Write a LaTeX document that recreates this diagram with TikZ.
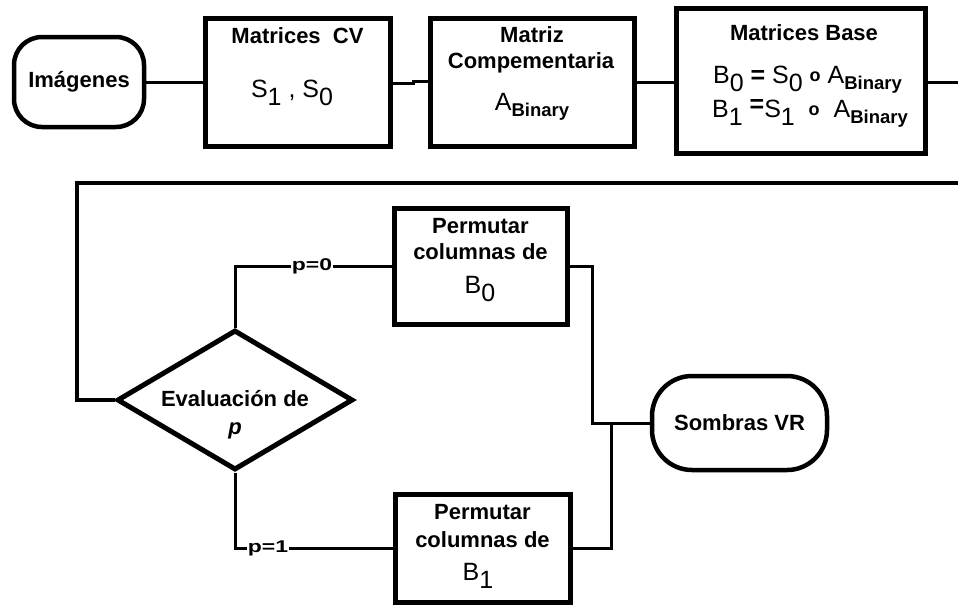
\documentclass[tikz,border=0pt]{standalone}
\usepackage{fontspec}
\setmainfont{Liberation Sans}
\usetikzlibrary{shapes.geometric,calc}

% lowered index, same size as the base letter
\newcommand\lowsub[1]{\raisebox{-8pt}{#1}}
% bold "Binary" index
\newcommand\binsub{\raisebox{-6pt}{\fontsize{18.5}{18}\selectfont\bfseries Binary}}
% element-wise product ring
\newcommand\ringop{\raisebox{2pt}{\fontsize{18}{18}\selectfont\bfseries o}}

\tikzset{
  procbox/.style={draw, line width=5pt, inner sep=0pt},
  term/.style={draw, line width=4.5pt, inner sep=0pt,
    font=\bfseries\fontsize{22}{26}\selectfont},
  decision/.style={draw, diamond, line width=5pt, inner sep=0pt},
  lbl/.style={font=\bfseries\fontsize{22}{26}\selectfont, inner sep=0pt, anchor=base},
  mathlbl/.style={font=\fontsize{25}{29}\selectfont, inner sep=0pt, anchor=base},
  link/.style={line width=3pt},
  loopline/.style={line width=4pt},
  cond/.style={inner sep=1pt, font=\bfseries\fontsize{17}{20}\selectfont}
}

\begin{document}
\begin{tikzpicture}[x=1pt,y=-1pt]
\useasboundingbox (0,0) rectangle (958,606);

% ---- first row ----
\node[term, rounded corners=28pt, minimum width=130, minimum height=90] (img) at (79,82) {Imágenes};

\node[procbox, minimum width=185, minimum height=128] (cv) at (297.5,82) {};
\node[lbl] (cvT) at (297.5,43) {Matrices\ \ CV};
\node[mathlbl] (cvM) at (292,97) {S\lowsub{1} , S\lowsub{0}};

\node[procbox, minimum width=204, minimum height=128] (cm) at (532,82) {};
\node[lbl] (cmT1) at (532,42) {Matriz};
\node[lbl] (cmT2) at (531,68) {Compementaria};
\node[mathlbl] (cmM) at (532,110) {A\binsub};

\node[procbox, minimum width=249, minimum height=145] (bs) at (800.5,81) {};
\node[lbl] (bsT) at (804,40) {Matrices Base};
\node[mathlbl] (bsM1) at (807.5,83) {B\lowsub{0} \textbf{=} S\lowsub{0} \ringop{} A\binsub};
\node[mathlbl] (bsM2) at (810,117) {B\lowsub{1} \raisebox{5pt}{\textbf{=}}S\lowsub{1} \ \ringop{} \ A\binsub};

\coordinate (outR) at (958,82);
\coordinate (inR) at (958,183);
\coordinate (turn) at (77,183);

% ---- second part ----
\node[decision, minimum width=236, minimum height=140] (ev) at (235,400) {};
\node[lbl] (evT1) at (235,406) {Evaluación de};
\node[lbl] (evT2) at (235,434) {\itshape p};

\node[procbox, minimum width=173, minimum height=116] (pb0) at (480.5,266) {};
\node[lbl] (pb0T1) at (480.5,233) {Permutar};
\node[lbl] (pb0T2) at (480.5,259) {columnas de};
\node[mathlbl] (pb0M) at (480,293) {B\lowsub{0}};

\node[procbox, minimum width=175, minimum height=108] (pb1) at (482.5,548) {};
\node[lbl] (pb1T1) at (482.5,519) {Permutar};
\node[lbl] (pb1T2) at (482.5,547) {columnas de};
\node[mathlbl] (pb1M) at (478,580) {B\lowsub{1}};

\node[term, rounded corners=40pt, minimum width=175, minimum height=94] (sv) at (739.5,423) {Sombras VR};

\node[cond] (c0) at (312,266) {\scalebox{1.35}[1]{p=0}};
\node[cond] (c1) at (268,548) {\scalebox{1.35}[1]{p=1}};
\coordinate (jn) at (611,423);

% ---- connectors ----
\draw[link] (img.east) -- (cv.west);
\draw[link] ($(cv.east)+(0,1)$) -- ++(21,0) |- ($(cm.west)+(0,-1)$);
\draw[link] (cm.east) -- (bs.west |- cm.east);
\draw[link] (bs.east |- outR) -- (outR);
\draw[loopline] (inR) -- (turn) |- (ev.west);

\draw[link] (ev.north) |- (c0.west);
\draw[link] (c0.east) -- (pb0.west);
\draw[link] (ev.south) |- (c1.west);
\draw[link] (c1.east) -- (pb1.west);

\draw[link] (pb0.east) -- ($(pb0.east)+(23,0)$) |- (sv.west);
\draw[link] (pb1.east) -| (jn);
\end{tikzpicture}
\end{document}
